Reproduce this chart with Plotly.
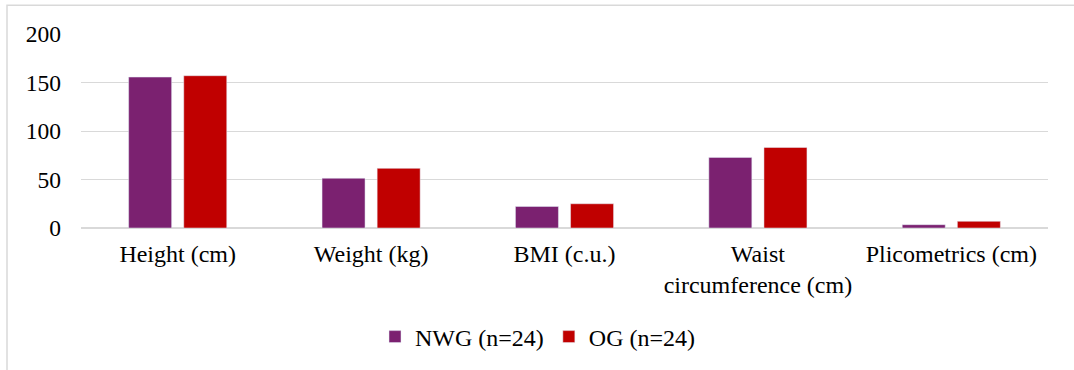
import plotly.graph_objects as go

categories = ["Height (cm)", "Weight (kg)", "BMI (c.u.)", "Waist<br>circumference (cm)", "Plicometrics (cm)"]
nwg_values = [155.6, 51.3, 22.2, 72.8, 3.4]
og_values = [157.0, 61.5, 25.0, 83.0, 6.9]
series_names = ["NWG (n=24)", "OG (n=24)"]
y_ticks = [0, 50, 100, 150, 200]

W, H = 1074, 370
L, R, T, B = 81, W - 1048, 34, H - 229
pw, ph = W - L - R, H - T - B

def px_x(x):
    return (x - L) / pw

def px_y(y):
    return (H - B - y) / ph

fig = go.Figure()
fig.add_trace(go.Bar(x=categories, y=nwg_values, name=series_names[0], marker_color="#7B2170"))
fig.add_trace(go.Bar(x=categories, y=og_values, name=series_names[1], marker_color="#C00000"))

font = dict(family="Liberation Serif, Times New Roman, serif", size=24, color="#000000")
yfont = dict(family="Liberation Serif, Times New Roman, serif", size=23.5, color="#000000")

fig.update_layout(
    width=W, height=H,
    margin=dict(l=L, r=R, t=T, b=B, pad=0),
    paper_bgcolor="white", plot_bgcolor="white",
    barmode="group", bargap=0.43, bargroupgap=0.22,
    font=font,
    showlegend=True,
    legend=dict(orientation="h", x=px_x(538), xanchor="center", y=px_y(337), yanchor="middle",
                font=font, bgcolor="rgba(0,0,0,0)", traceorder="normal"),
    xaxis=dict(showgrid=False, showline=False, ticks="", tickfont=font, fixedrange=True,
               ticklabelstandoff=9),
    yaxis=dict(range=[0, 200], tickvals=y_ticks, showgrid=True, gridcolor="#D9D9D9", gridwidth=1,
               zeroline=True, zerolinecolor="#D9D9D9", zerolinewidth=1.5, showline=False,
               ticks="", tickfont=yfont, ticklabelstandoff=19, fixedrange=True),
    shapes=[dict(type="rect", xref="paper", yref="paper",
                 x0=px_x(7), x1=px_x(1080), y0=px_y(380), y1=px_y(5),
                 line=dict(color="#D9D9D9", width=1.5), fillcolor="rgba(0,0,0,0)", layer="below")],
)

fig.write_html("out.html", config={"displayModeBar": False},
               post_script="document.body.style.margin='0';document.body.style.padding='0';")
